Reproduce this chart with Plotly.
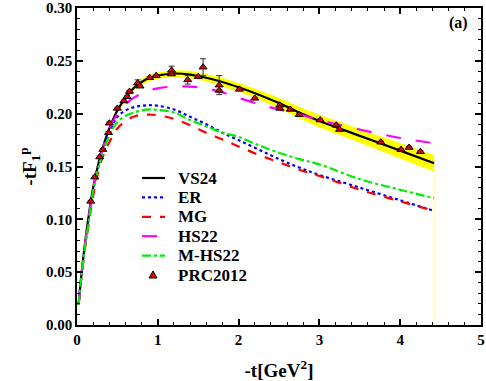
import plotly.graph_objects as go

# momentum transfer grid for the model curves (GeV^2)
t_curve = [0.02, 0.05, 0.1, 0.15, 0.2, 0.3, 0.4, 0.5, 0.6, 0.7, 0.8, 0.9, 1.0,
           1.2, 1.4, 1.6, 1.8, 2.0, 2.25, 2.5, 2.75, 3.0, 3.5, 4.0, 4.42]

vs24 = [0.019, 0.044, 0.078, 0.106, 0.130, 0.163, 0.186, 0.203, 0.215, 0.224, 0.230, 0.234, 0.236,
        0.238, 0.237, 0.234, 0.230, 0.225, 0.218, 0.210, 0.201, 0.193, 0.179, 0.165, 0.153]
vs24_err = [0.001, 0.001, 0.001, 0.0015, 0.0015, 0.002, 0.002, 0.002, 0.0025, 0.0025, 0.003, 0.003, 0.003,
            0.003, 0.0035, 0.0035, 0.004, 0.004, 0.0045, 0.005, 0.0055, 0.006, 0.0065, 0.0075, 0.008]
er = [0.019, 0.043, 0.075, 0.101, 0.128, 0.160, 0.182, 0.197, 0.203, 0.206, 0.2075, 0.208, 0.2075,
      0.204, 0.197, 0.190, 0.182, 0.175, 0.166, 0.157, 0.149, 0.142, 0.130, 0.118, 0.108]
mg = [0.019, 0.042, 0.073, 0.098, 0.122, 0.155, 0.173, 0.186, 0.193, 0.197, 0.199, 0.199, 0.1985,
      0.195, 0.189, 0.182, 0.1755, 0.169, 0.161, 0.154, 0.147, 0.141, 0.128, 0.117, 0.108]
hs22 = [0.019, 0.044, 0.077, 0.104, 0.128, 0.162, 0.185, 0.200, 0.209, 0.215, 0.219, 0.222, 0.224,
        0.2257, 0.2255, 0.224, 0.220, 0.215, 0.209, 0.204, 0.1995, 0.194, 0.185, 0.177, 0.172]
mhs22 = [0.019, 0.043, 0.074, 0.100, 0.127, 0.158, 0.179, 0.192, 0.198, 0.201, 0.203, 0.204, 0.2035,
         0.201, 0.194, 0.188, 0.182, 0.178, 0.170, 0.163, 0.157, 0.152, 0.138, 0.128, 0.120]

# PRC2012 data points
t_data = [0.17, 0.22, 0.28, 0.32, 0.39, 0.40, 0.50, 0.58, 0.62, 0.65, 0.75, 0.78, 0.90, 0.98,
          1.17, 1.17, 1.37, 1.50, 1.56, 1.76, 1.76, 2.01, 2.20, 2.51, 2.51, 2.64, 2.75, 3.01,
          3.21, 3.25, 3.76, 4.01, 4.11, 4.25]
f_data = [0.117, 0.140, 0.159, 0.166, 0.182, 0.191, 0.205, 0.212, 0.216, 0.221, 0.229, 0.226, 0.234, 0.236,
          0.241, 0.2375, 0.232, 0.235, 0.244, 0.227, 0.222, 0.223, 0.2145, 0.208, 0.205, 0.204, 0.199, 0.194,
          0.189, 0.185, 0.173, 0.166, 0.168, 0.164]
f_err = [0.001, 0.001, 0.001, 0.001, 0.001, 0.001, 0.001, 0.001, 0.001, 0.001, 0.003, 0.001, 0.001, 0.001,
         0.004, 0.001, 0.004, 0.001, 0.008, 0.009, 0.001, 0.001, 0.001, 0.001, 0.001, 0.001, 0.001, 0.001,
         0.001, 0.001, 0.001, 0.001, 0.001, 0.001]

FONT = "Liberation Serif, Times New Roman, serif"

# model curves: name, values, colour, dash
models = [
    ("VS24", vs24, "black", "solid"),
    ("ER", er, "#0000ff", "dot"),
    ("MG", mg, "#ff0000", "dash"),
    ("HS22", hs22, "#ff00ff", "longdash"),
    ("M-HS22", mhs22, "#00ee00", "dashdot"),
]

upper = [v + e for v, e in zip(vs24, vs24_err)]
lower = [v - e for v, e in zip(vs24, vs24_err)]

fig = go.Figure()

# uncertainty band of VS24
fig.add_trace(go.Scatter(x=t_curve, y=lower, mode="lines", line=dict(width=0), hoverinfo="skip"))
fig.add_trace(go.Scatter(x=t_curve, y=upper, mode="lines", line=dict(width=0),
                         fill="tonexty", fillcolor="#ffff00", hoverinfo="skip"))
# faint edge of the band down to the axis
fig.add_trace(go.Scatter(x=[t_curve[-1], t_curve[-1]], y=[0, lower[-1]], mode="lines",
                         line=dict(color="#ffff99", width=1), hoverinfo="skip"))

for name, vals, color, dash in models:
    fig.add_trace(go.Scatter(x=t_curve, y=vals, mode="lines", name=name,
                             line=dict(color=color, width=2.2, dash=dash, shape="spline")))

fig.add_trace(go.Scatter(x=t_data, y=f_data, mode="markers", name="PRC2012",
                         marker=dict(symbol="triangle-up", size=7, color="#dd0000",
                                     line=dict(color="black", width=1)),
                         error_y=dict(type="data", array=f_err, color="#333333",
                                      thickness=1, width=3)))

# hand-drawn legend (tighter rows than plotly's own legend)
def px_x(p):
    return (p - 77) / 404

def px_y(p):
    return (325 - p) / 317

row0, row_gap = 178, 19.4
for i, (name, vals, color, dash) in enumerate(models + [("PRC2012", None, None, None)]):
    yy = px_y(row0 + i * row_gap)
    if vals is not None:
        fig.add_shape(type="line", xref="paper", yref="paper",
                      x0=px_x(142), x1=px_x(165), y0=yy, y1=yy,
                      line=dict(color=color, width=2.2, dash=dash))
    else:
        fig.add_shape(type="path", xref="paper", yref="paper",
                      xsizemode="pixel", ysizemode="pixel",
                      xanchor=px_x(153), yanchor=yy,
                      path="M -4,-3 L 4,-3 L 0,4 Z",
                      fillcolor="#dd0000", line=dict(color="black", width=1))
    fig.add_annotation(text="<b>%s</b>" % name, x=px_x(176), y=yy, xref="paper", yref="paper",
                       xanchor="left", yanchor="middle", showarrow=False,
                       font=dict(family=FONT, size=17, color="black"))

axis_common = dict(
    showline=True, linecolor="black", linewidth=1.5, mirror="allticks",
    ticks="inside", ticklen=6, tickwidth=1.5, tickcolor="black",
    showgrid=False, zeroline=False, automargin=False,
    tickfont=dict(family=FONT, size=15, color="black", weight="bold"),
)

fig.update_xaxes(range=[0, 5], dtick=1, tick0=0,
                 minor=dict(ticks="inside", ticklen=3, tickwidth=1.2, dtick=0.2, tickcolor="black"),
                 title=dict(text="-t[GeV<sup>2</sup>]", standoff=19,
                            font=dict(family=FONT, size=19, color="black", weight="bold")),
                 **axis_common)
fig.update_yaxes(range=[0, 0.30], dtick=0.05, tick0=0, tickformat=".2f",
                 minor=dict(ticks="inside", ticklen=3, tickwidth=1.2, dtick=0.01, tickcolor="black"),
                 title=dict(text="-tF<sub>1</sub><sup>p</sup>", standoff=4,
                            font=dict(family=FONT, size=19, color="black", weight="bold")),
                 **axis_common)

fig.add_annotation(text="<b>(a)</b>", x=px_x(458), y=px_y(23), xref="paper", yref="paper",
                   xanchor="center", yanchor="middle", showarrow=False,
                   font=dict(family=FONT, size=16, color="black"))

fig.update_layout(
    width=486, height=381,
    margin=dict(l=77, r=5, t=8, b=56),
    plot_bgcolor="white", paper_bgcolor="white",
    showlegend=False,
)

fig.write_html("out.html", config={"displayModeBar": False},
               post_script="document.body.style.margin='0';")
